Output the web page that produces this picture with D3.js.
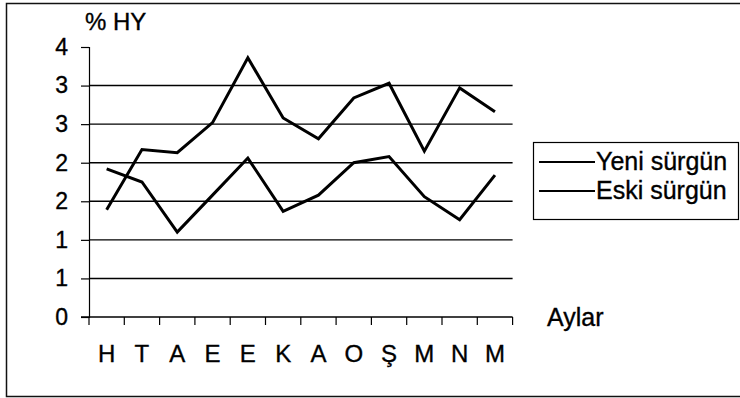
<!DOCTYPE html>
<html>
<head>
<meta charset="utf-8">
<script src="https://cdn.jsdelivr.net/npm/d3@7"></script>
<style>
  html, body { margin: 0; padding: 0; background: #fff; }
  svg { display: block; font-family: "Liberation Sans", Arial, sans-serif; }
  text { fill: #000; stroke: #000; stroke-width: 0.35px; }
</style>
</head>
<body>
<svg id="chart" width="740" height="398"></svg>
<script>
// ── Data ────────────────────────────────────────────────────────────────
const months     = ['H', 'T', 'A', 'E', 'E', 'K', 'A', 'O', 'Ş', 'M', 'N', 'M'];
const yeniSurgun = [1.39, 2.17, 2.13, 2.52, 3.36, 2.58, 2.31, 2.84, 3.03, 2.15, 2.97, 2.66];
const eskiSurgun = [1.92, 1.75, 1.10, 1.58, 2.06, 1.37, 1.58, 2.00, 2.08, 1.56, 1.26, 1.84];
const yTicks     = [0, 0.5, 1, 1.5, 2, 2.5, 3, 3.5];
const seriesNames = ['Yeni sürgün', 'Eski sürgün'];

const svg = d3.select('#chart');

// outer frame (right edge runs off the picture)
svg.append('path')
  .attr('d', 'M745,3.5 H6.5 V396.5 H745')
  .attr('fill', 'none').attr('stroke', '#111').attr('stroke-width', 1.5);

const plot = { left: 89, right: 512.6, top: 47, bottom: 317 };

const x = d3.scaleBand().domain(d3.range(months.length)).range([plot.left, plot.right]);
const y = d3.scaleLinear().domain([0, 3.5]).range([plot.bottom, plot.top]);

// ── Gridlines ───────────────────────────────────────────────────────────
svg.append('g')
  .selectAll('line')
  .data(yTicks.filter(v => v > 0 && v < 3.5))
  .join('line')
  .attr('x1', plot.left).attr('x2', plot.right)
  .attr('y1', d => y(d)).attr('y2', d => y(d))
  .attr('stroke', '#000').attr('stroke-width', 1.4);

// ── Y axis ──────────────────────────────────────────────────────────────
const yAxis = svg.append('g')
  .attr('transform', `translate(${plot.left},0)`)
  .call(d3.axisLeft(y).tickValues(yTicks).tickSize(8).tickPadding(13)
    .tickFormat(v => String(Math.round(v))));
yAxis.select('.domain').attr('stroke', '#000').attr('stroke-width', 1.2);
yAxis.selectAll('.tick line').attr('stroke', '#000').attr('stroke-width', 1.2);
yAxis.selectAll('.tick text')
  .attr('font-size', 23).attr('fill', '#000')
  .attr('font-family', '"Liberation Sans", Arial, sans-serif');

// ── X axis (ticks on category boundaries) ───────────────────────────────
const xg = svg.append('g');
xg.append('line')
  .attr('x1', plot.left - 8).attr('x2', plot.right)
  .attr('y1', plot.bottom).attr('y2', plot.bottom)
  .attr('stroke', '#000').attr('stroke-width', 1.4);
xg.selectAll('line.xt')
  .data(d3.range(months.length + 1))
  .join('line').attr('class', 'xt')
  .attr('x1', i => i < months.length ? x(i) : x(i - 1) + x.bandwidth())
  .attr('x2', i => i < months.length ? x(i) : x(i - 1) + x.bandwidth())
  .attr('y1', plot.bottom).attr('y2', plot.bottom + 8)
  .attr('stroke', '#000').attr('stroke-width', 1.2);
xg.selectAll('text')
  .data(months)
  .join('text')
  .attr('x', (d, i) => x(i) + x.bandwidth() / 2)
  .attr('y', 362)
  .attr('text-anchor', 'middle')
  .attr('font-size', 24)
  .text(d => d);

// ── Lines ───────────────────────────────────────────────────────────────
const line = d3.line()
  .x((d, i) => x(i) + x.bandwidth() / 2)
  .y(d => y(d));

[yeniSurgun, eskiSurgun].forEach(vals => {
  svg.append('path')
    .datum(vals)
    .attr('d', line)
    .attr('fill', 'none')
    .attr('stroke', '#000')
    .attr('stroke-width', 3)
    .attr('stroke-linejoin', 'miter');
});

// ── Titles ──────────────────────────────────────────────────────────────
svg.append('text').attr('x', 85).attr('y', 30).attr('font-size', 24).text('% HY');
svg.append('text').attr('x', 547).attr('y', 326).attr('font-size', 25).text('Aylar');

// ── Legend ──────────────────────────────────────────────────────────────
const lg = svg.append('g');
lg.append('rect')
  .attr('x', 533.5).attr('y', 142.5).attr('width', 205).attr('height', 77)
  .attr('fill', '#fff').attr('stroke', '#000').attr('stroke-width', 1.2);
seriesNames.forEach((name, i) => {
  const cy = 162 + i * 29;
  lg.append('line')
    .attr('x1', 539).attr('x2', 595).attr('y1', cy).attr('y2', cy)
    .attr('stroke', '#000').attr('stroke-width', 2);
  lg.append('text')
    .attr('x', 596).attr('y', cy + 8)
    .attr('font-size', 25)
    .text(name);
});
</script>
</body>
</html>
